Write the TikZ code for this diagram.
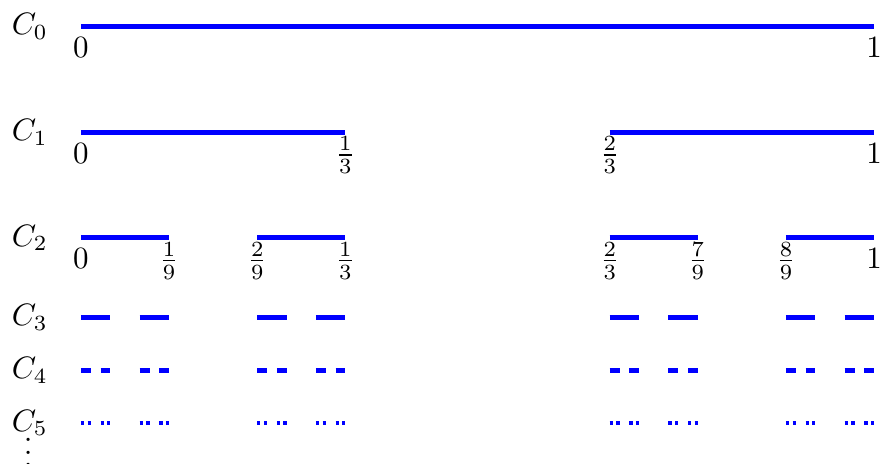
\documentclass[tikz,border=0pt]{standalone}
\tikzset{
  seg/.style={blue, line width=1.6pt},
  tick/.style={below},
  fractick/.style={anchor=north, inner ysep=1.2pt},
  setname/.style={}
}
\makeatletter
\def\cantorseg#1#2#3#4{% depth, left, length, y
  \ifnum#1=0
    \draw[seg] (#2,#4) -- ++(#3,0);
  \else
    \pgfmathsetmacro\cantorLen{#3/3}%
    \pgfmathsetmacro\cantorRight{#2+2*#3/3}%
    \edef\cantorNext{%
      \noexpand\cantorseg{\the\numexpr#1-1\relax}{#2}{\cantorLen}{#4}%
      \noexpand\cantorseg{\the\numexpr#1-1\relax}{\cantorRight}{\cantorLen}{#4}}%
    \cantorNext
  \fi}
\makeatother
\begin{document}
\begin{tikzpicture}
\useasboundingbox (-0.919,-4.955) rectangle (9.067,0.30);
% levels
\foreach \n/\y in {0/0,1/-1.2,2/-2.4,3/-3.3,4/-3.9,5/-4.5}{
  \node[setname] (c\n) at (-0.58,\y) {$C_{\n}$};
  \cantorseg{\n}{0}{9}{\y}
}
\node (dots) at (-0.6,-4.73) {$\vdots$};
% C0 labels
\node[tick] (l00) at (0,0) {$0$};
\node[tick] (l01) at (9,0) {$1$};
% C1 labels
\node[tick] (l10) at (0,-1.2) {$0$};
\node[fractick] (l11) at (3,-1.2) {$\frac{1}{3}$};
\node[fractick] (l12) at (6,-1.2) {$\frac{2}{3}$};
\node[tick] (l13) at (9,-1.2) {$1$};
% C2 labels
\node[tick] (l20) at (0,-2.4) {$0$};
\foreach \x/\t/\k in {1/\frac{1}{9}/1,2/\frac{2}{9}/2,3/\frac{1}{3}/3,6/\frac{2}{3}/4,7/\frac{7}{9}/5,8/\frac{8}{9}/6}{
  \node[fractick] (l2\k) at (\x,-2.4) {$\t$};
}
\node[tick] (l27) at (9,-2.4) {$1$};
\end{tikzpicture}
\end{document}
